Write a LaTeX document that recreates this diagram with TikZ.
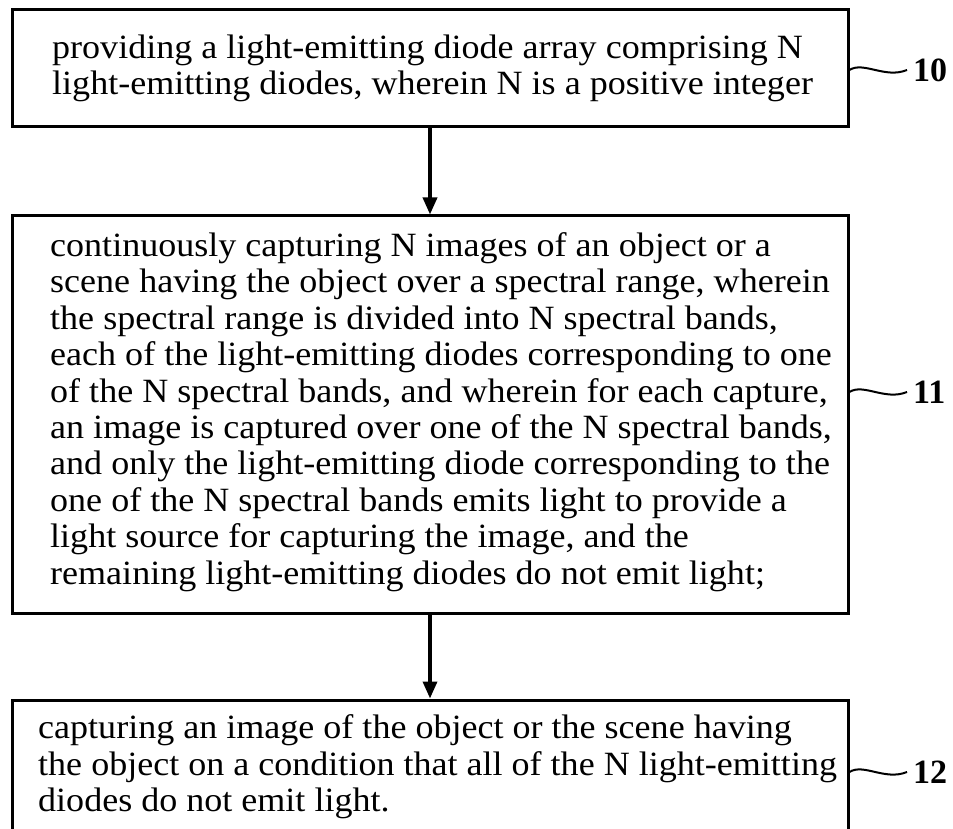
\documentclass[tikz,border=0pt]{standalone}
\usepackage{fontspec}
\setmainfont[FakeStretch=1.06]{Liberation Serif}
\newfontfamily\labelfont{Liberation Serif}
\usetikzlibrary{arrows.meta}
\tikzset{
  stepbox/.style={draw=black, line width=3pt, rectangle, inner sep=0pt},
  steptext/.style={anchor=west, align=left, inner sep=0pt,
    font=\fontsize{34pt}{36.4pt}\selectfont},
  reflabel/.style={anchor=west, inner xsep=6pt, inner ysep=0pt,
    font=\labelfont\fontsize{34pt}{34pt}\selectfont\bfseries},
  flowarrow/.style={line width=3.5pt, -{Triangle[length=17pt, width=14pt]}},
  tildeline/.style={line width=2pt}
}
\begin{document}
\begin{tikzpicture}[x=1pt, y=-1pt]
\useasboundingbox (0,0) rectangle (953,829);
\fill[white] (0,0) rectangle (953,829);

\node[stepbox, minimum width=836pt, minimum height=117pt] (b1) at (430,68.5) {};
\node[stepbox, minimum width=836pt, minimum height=397pt] (b2) at (430,414.5) {};
\node[stepbox, minimum width=836pt, minimum height=140pt] (b3) at (430,770) {};

\node[steptext] (t1) at (52,68.5) {providing a light-emitting diode array comprising N\\
light-emitting diodes, wherein N is a positive integer};

\node[steptext] (t2) at (50,412) {continuously capturing N images of an object or a\\
scene having the object over a spectral range, wherein\\
the spectral range is divided into N spectral bands,\\
each of the light-emitting diodes corresponding to one\\
of the N spectral bands, and wherein for each capture,\\
an image is captured over one of the N spectral bands,\\
and only the light-emitting diode corresponding to the\\
one of the N spectral bands emits light to provide a\\
light source for capturing the image, and the\\
remaining light-emitting diodes do not emit light;};

\node[steptext] (t3) at (38,767) {capturing an image of the object or the scene having\\
the object on a condition that all of the N light-emitting\\
diodes do not emit light.};

\draw[flowarrow] (b1.south) -- (b2.north);
\draw[flowarrow] (b2.south) -- (b3.north);

\node[reflabel] (l10) at (907,70) {10};
\node[reflabel] (l11) at (907,392) {11};
\node[reflabel] (l12) at (907,772) {12};

\draw[tildeline] (b1.east |- l10.west) .. controls +(14,-9) and +(-22,9) .. (l10.west);
\draw[tildeline] (b2.east |- l11.west) .. controls +(14,-9) and +(-22,9) .. (l11.west);
\draw[tildeline] (b3.east |- l12.west) .. controls +(14,-9) and +(-22,9) .. (l12.west);
\end{tikzpicture}
\end{document}
